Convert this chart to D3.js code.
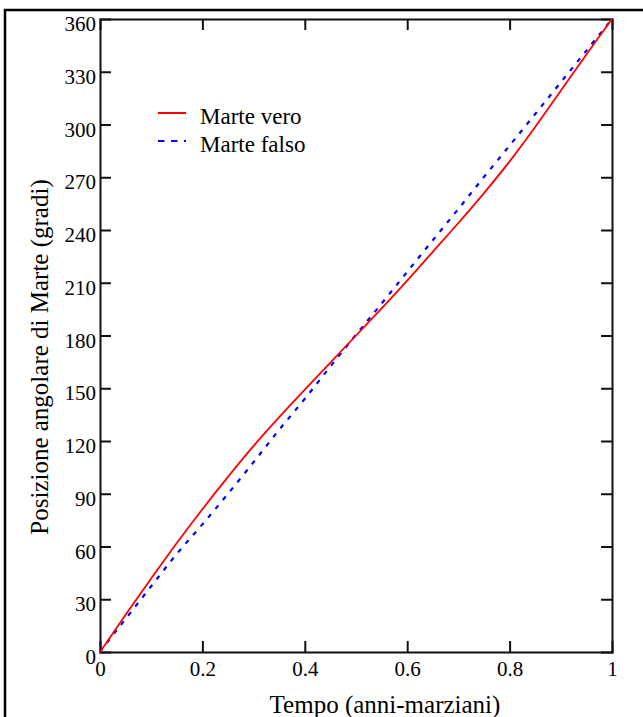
<!DOCTYPE html>
<html><head><meta charset="utf-8">
<script src="https://cdn.jsdelivr.net/npm/d3@7"></script>
<style>
html,body{margin:0;padding:0;background:#fff;}
svg{display:block;}
text{font-family:"Liberation Serif","Times New Roman",serif;fill:#000;}
</style></head>
<body>
<svg id="chart" width="643" height="717"></svg>
<script>
// ---- data ----
const times      = [0, 0.025, 0.05, 0.1, 0.15, 0.2, 0.25, 0.3, 0.35, 0.4, 0.45, 0.5, 0.55, 0.6, 0.65, 0.7, 0.75, 0.8, 0.85, 0.9, 0.95, 1];
const marteVero  = [0, 10.5, 21.2, 41.8, 62.0, 81.2, 99.6, 117.2, 133.6, 149.2, 164.6, 180, 195.4, 211.2, 227.6, 244.0, 261.0, 279.0, 298.6, 319.2, 339.8, 360];
const marteFalso = [0, 9.6, 18.8, 37.4, 55.8, 72.6, 90, 108, 126.4, 144, 162.4, 180.4, 198.2, 216.2, 234.2, 252, 270.2, 288, 306, 324, 342, 360];
const xTicks = [0, 0.2, 0.4, 0.6, 0.8, 1];
const xTickLabels = ["0", "0.2", "0.4", "0.6", "0.8", "1"];
const yTicks = [0, 30, 60, 90, 120, 150, 180, 210, 240, 270, 300, 330, 360];
const seriesNames = ["Marte vero", "Marte falso"];
const xTitle = "Tempo (anni-marziani)";
const yTitle = "Posizione angolare di Marte (gradi)";

// ---- layout ----
const svg = d3.select("#chart");
const L = 100, R = 612, T = 19, B = 652;
const x = d3.scaleLinear().domain([0, 1]).range([L, R]);
const y = d3.scaleLinear().domain([0, 360]).range([B, T]);

// outer frame (cropped on right and bottom)
svg.append("rect").attr("x", 5).attr("y", 10).attr("width", 700).attr("height", 760)
  .attr("fill", "none").attr("stroke", "#000").attr("stroke-width", 2.5);

const tickLen = 11;
const axB = svg.append("g").attr("transform", `translate(0,${B})`)
  .call(d3.axisBottom(x).tickValues(xTicks).tickFormat((d, i) => xTickLabels[i]).tickSize(-tickLen).tickPadding(9));
const axT = svg.append("g").attr("transform", `translate(0,${T})`)
  .call(d3.axisTop(x).tickValues(xTicks).tickFormat("").tickSize(-tickLen));
const axL = svg.append("g").attr("transform", `translate(${L},0)`)
  .call(d3.axisLeft(y).tickValues(yTicks).tickFormat(d3.format("d")).tickSize(-tickLen).tickPadding(4));
const axR = svg.append("g").attr("transform", `translate(${R},0)`)
  .call(d3.axisRight(y).tickValues(yTicks).tickFormat("").tickSize(-tickLen));

[axB, axT, axL, axR].forEach(g => {
  g.select(".domain").attr("stroke", "#111").attr("stroke-width", 2);
  g.selectAll(".tick line").attr("stroke", "#111").attr("stroke-width", 2);
  g.selectAll(".tick text").attr("font-family", '"Liberation Serif", serif').attr("font-size", 21).attr("fill", "#000");
});
axL.selectAll(".tick text").attr("dy", "0.55em");
axB.selectAll(".tick text").attr("dy", "0.72em");
axT.selectAll(".tick").filter(d => d === 0 || d === 1).remove();
axR.selectAll(".tick").filter(d => d === 0 || d === 360).remove();
axB.selectAll(".tick line").filter(d => d === 0 || d === 1).remove();
axL.selectAll(".tick line").filter(d => d === 0 || d === 360).remove();

// lines
const veroPts = times.map((t, i) => [t, marteVero[i]]);
const falsoPts = times.map((t, i) => [t, marteFalso[i]]);
const line = d3.line().x(d => x(d[0])).y(d => y(d[1])).curve(d3.curveCatmullRom.alpha(0.5));

svg.append("path").datum(falsoPts).attr("d", line)
  .attr("fill", "none").attr("stroke", "#0000ff").attr("stroke-width", 2.2)
  .attr("stroke-dasharray", "4.5,7");
svg.append("path").datum(veroPts).attr("d", line)
  .attr("fill", "none").attr("stroke", "#ff0000").attr("stroke-width", 1.8);

// legend
const leg = svg.append("g");
const legRows = [{name: seriesNames[0], color: "#ff0000", dash: null, yy: 113},
                 {name: seriesNames[1], color: "#0000ff", dash: "6.5,6.5", yy: 141}];
legRows.forEach(r => {
  leg.append("line").attr("x1", 158).attr("x2", 186).attr("y1", r.yy).attr("y2", r.yy)
    .attr("stroke", r.color).attr("stroke-width", 2).attr("stroke-dasharray", r.dash);
  leg.append("text").attr("x", 200).attr("y", r.yy + 11).attr("font-size", 23).text(r.name);
});

// titles
svg.append("text").attr("x", 385).attr("y", 713).attr("text-anchor", "middle")
  .attr("font-size", 25).text(xTitle);
svg.append("text").attr("transform", "translate(48,357) rotate(-90)").attr("text-anchor", "middle")
  .attr("font-size", 25).text(yTitle);
</script>
</body></html>
